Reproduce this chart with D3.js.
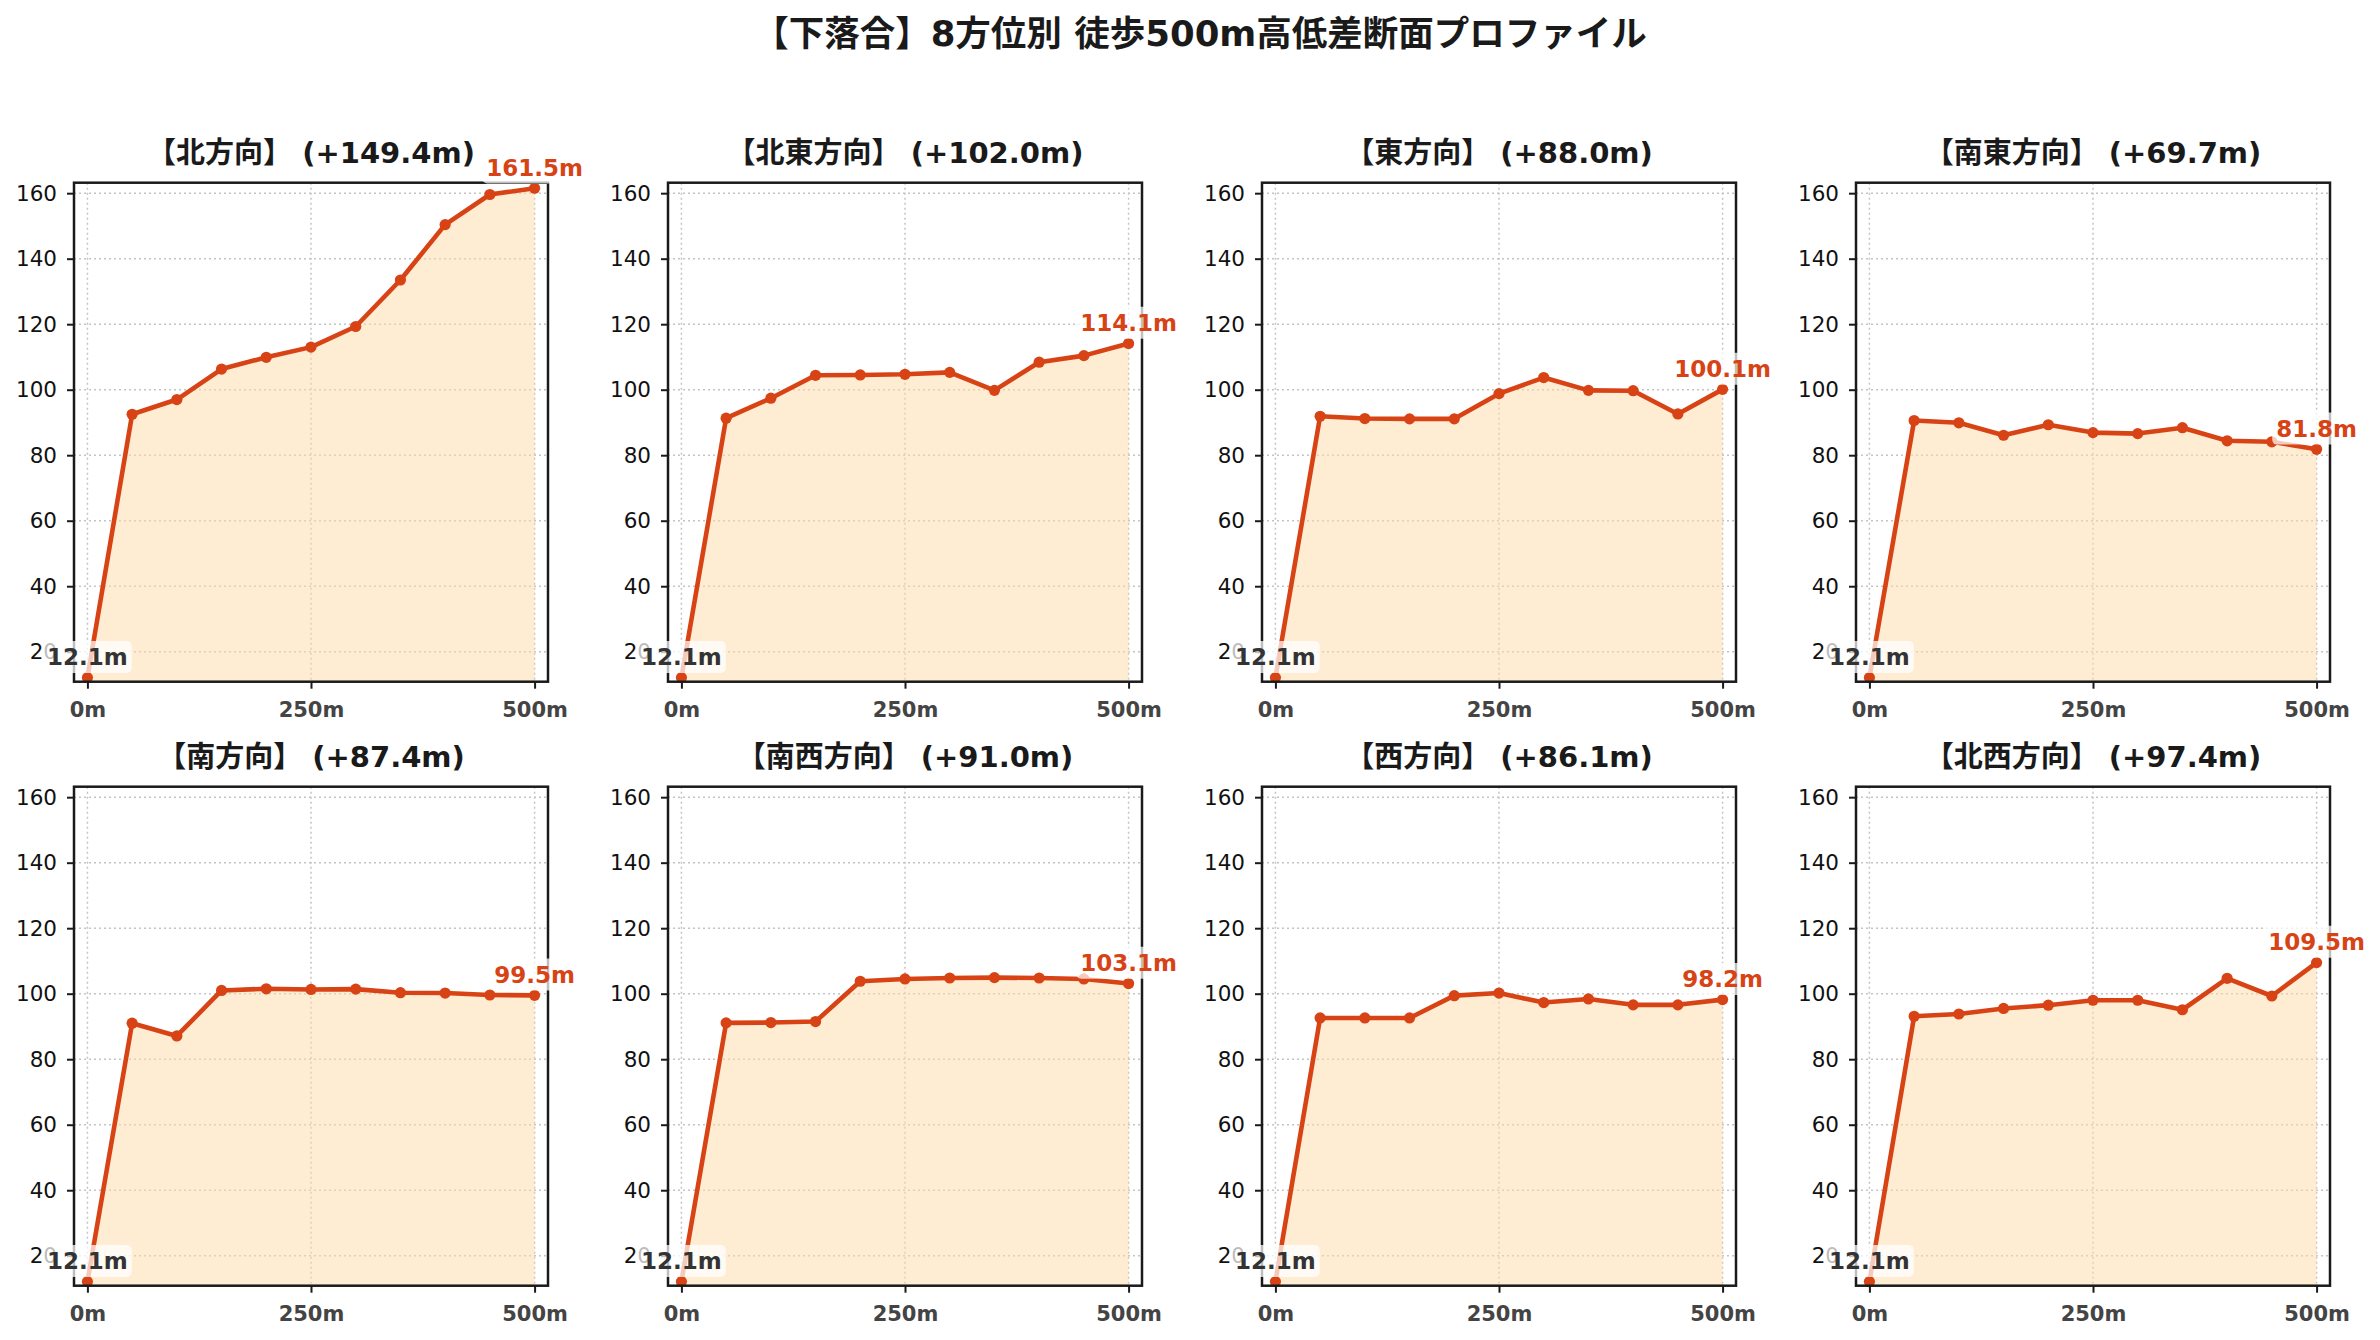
<!DOCTYPE html>
<html>
<head>
<meta charset="utf-8">
<script src="https://cdn.jsdelivr.net/npm/d3@7"></script>
<style>
  html, body { margin: 0; padding: 0; background: #ffffff; }
  svg { display: block; }
  text { font-family: "DejaVu Sans", "Noto Sans CJK JP", sans-serif; }
</style>
</head>
<body>
<svg id="chart" width="2380" height="1340"></svg>
<script>
// ---- data ----
const distances = [0, 50, 100, 150, 200, 250, 300, 350, 400, 450, 500];
const directionNames = ["北", "北東", "東", "南東", "南", "南西", "西", "北西"];
const northElev     = [12.1, 92.5, 97.0, 106.3, 109.9, 113.0, 119.3, 133.5, 150.4, 159.6, 161.5];
const northEastElev = [12.1, 91.3, 97.4, 104.4, 104.5, 104.7, 105.3, 99.8, 108.4, 110.4, 114.1];
const eastElev      = [12.1, 91.9, 91.2, 91.1, 91.1, 98.8, 103.7, 99.8, 99.7, 92.6, 100.1];
const southEastElev = [12.1, 90.6, 89.9, 86.1, 89.3, 86.9, 86.6, 88.4, 84.4, 84.1, 81.8];
const southElev     = [12.1, 91.0, 87.1, 101.0, 101.5, 101.3, 101.4, 100.3, 100.2, 99.6, 99.5];
const southWestElev = [12.1, 91.1, 91.2, 91.5, 103.8, 104.5, 104.8, 104.9, 104.8, 104.5, 103.1];
const westElev      = [12.1, 92.6, 92.6, 92.6, 99.4, 100.2, 97.3, 98.4, 96.6, 96.6, 98.2];
const northWestElev = [12.1, 93.1, 93.8, 95.5, 96.5, 98.0, 98.0, 95.1, 104.7, 99.3, 109.5];
const elevationSeries = [northElev, northEastElev, eastElev, southEastElev,
                         southElev, southWestElev, westElev, northWestElev];
const xTickValues = [0, 250, 500];
const xTickLabels = ["0m", "250m", "500m"];
const yTickValues = [20, 40, 60, 80, 100, 120, 140, 160];
const mainTitle = "【下落合】8方位別 徒歩500m高低差断面プロファイル";

// ---- layout ----
const svg = d3.select("#chart");
const W = 2380, H = 1340;
svg.append("rect").attr("width", W).attr("height", H).attr("fill", "#ffffff");

const colLeft0 = 74, colPitch = 594, pw = 474;
const rowTops = [182.7, 786.7], ph = 499;

const lineColor = "#D84315";
const fillColor = "#FDD9A8";

const x = d3.scaleLinear().domain([-15, 515]).range([0, pw]);
const y = d3.scaleLinear().domain([10.85, 163.2]).range([ph, 0]);

svg.append("text")
  .attr("x", 1200).attr("y", 46)
  .attr("text-anchor", "middle")
  .attr("font-size", 35.5).attr("font-weight", "bold")
  .attr("fill", "#1a1a1a")
  .text(mainTitle);

elevationSeries.forEach((series, i) => {
  const col = i % 4, row = Math.floor(i / 4);
  const g = svg.append("g")
    .attr("transform", `translate(${colLeft0 + col * colPitch},${rowTops[row]})`);

  const data = distances.map((d, k) => ({ d: d, v: series[k] }));
  const startV = series[0], endV = series[series.length - 1];

  // grid
  g.append("g").selectAll("line.gx").data(xTickValues).join("line")
    .attr("x1", d => x(d)).attr("x2", d => x(d))
    .attr("y1", 0).attr("y2", ph)
    .attr("stroke", "#c4c4c4").attr("stroke-width", 1.5)
    .attr("stroke-dasharray", "2,3");
  g.append("g").selectAll("line.gy").data(yTickValues).join("line")
    .attr("x1", 0).attr("x2", pw)
    .attr("y1", d => y(d)).attr("y2", d => y(d))
    .attr("stroke", "#c4c4c4").attr("stroke-width", 1.5)
    .attr("stroke-dasharray", "2,3");

  // area
  const area = d3.area()
    .x(p => x(p.d))
    .y0(y(y.domain()[0]))
    .y1(p => y(p.v));
  g.append("path").datum(data)
    .attr("d", area)
    .attr("fill", fillColor).attr("fill-opacity", 0.5);

  // line
  const line = d3.line().x(p => x(p.d)).y(p => y(p.v));
  g.append("path").datum(data)
    .attr("d", line)
    .attr("fill", "none").attr("stroke", lineColor)
    .attr("stroke-width", 4.6).attr("stroke-linejoin", "round");

  g.append("g").selectAll("circle").data(data).join("circle")
    .attr("cx", p => x(p.d)).attr("cy", p => y(p.v))
    .attr("r", 5.6).attr("fill", lineColor);

  // axes
  const yAxis = d3.axisLeft(y).tickValues(yTickValues).tickSize(7).tickSizeOuter(0).tickPadding(10);
  const ya = g.append("g").call(yAxis);
  ya.select(".domain").remove();
  ya.selectAll(".tick line").attr("stroke", "#1a1a1a").attr("stroke-width", 2);
  ya.selectAll(".tick text")
    .attr("font-size", 21.5).attr("fill", "#111")
    .attr("font-family", "DejaVu Sans, sans-serif");

  const xAxis = d3.axisBottom(x).tickValues(xTickValues)
    .tickFormat((d, k) => xTickLabels[k]).tickSize(7).tickSizeOuter(0).tickPadding(13);
  const xa = g.append("g").attr("transform", `translate(0,${ph})`).call(xAxis);
  xa.select(".domain").remove();
  xa.selectAll(".tick line").attr("stroke", "#1a1a1a").attr("stroke-width", 2);
  xa.selectAll(".tick text")
    .attr("font-size", 21).attr("font-weight", "bold").attr("fill", "#444")
    .attr("font-family", "DejaVu Sans, sans-serif");

  // spines
  g.append("rect").attr("x", 0).attr("y", 0).attr("width", pw).attr("height", ph)
    .attr("fill", "none").attr("stroke", "#1a1a1a").attr("stroke-width", 2.5);

  // title
  g.append("text")
    .attr("x", pw / 2).attr("y", -20)
    .attr("text-anchor", "middle")
    .attr("font-size", 29).attr("font-weight", "bold").attr("fill", "#1a1a1a")
    .text(`【${directionNames[i]}方向】 (+${(endV - startV).toFixed(1)}m)`);

  // annotations
  function annotate(px, py, label, color) {
    const ag = g.append("g");
    const box = ag.append("rect");
    const t = ag.append("text")
      .attr("x", px).attr("y", py - 21)
      .attr("text-anchor", "middle").attr("dy", "0.36em")
      .attr("font-size", 23).attr("font-weight", "bold").attr("fill", color)
      .attr("font-family", "DejaVu Sans, sans-serif")
      .text(label);
    const bb = t.node().getBBox();
    const pad = 4;
    box.attr("x", bb.x - pad).attr("y", bb.y - pad + 1)
      .attr("width", bb.width + 2 * pad).attr("height", bb.height + 2 * pad - 2)
      .attr("rx", 5).attr("fill", "#ffffff").attr("fill-opacity", 0.72);
  }
  annotate(x(distances[0]), y(startV), `${startV.toFixed(1)}m`, "#333333");
  annotate(x(distances[distances.length - 1]), y(endV), `${endV.toFixed(1)}m`, lineColor);
});
</script>
</body>
</html>
